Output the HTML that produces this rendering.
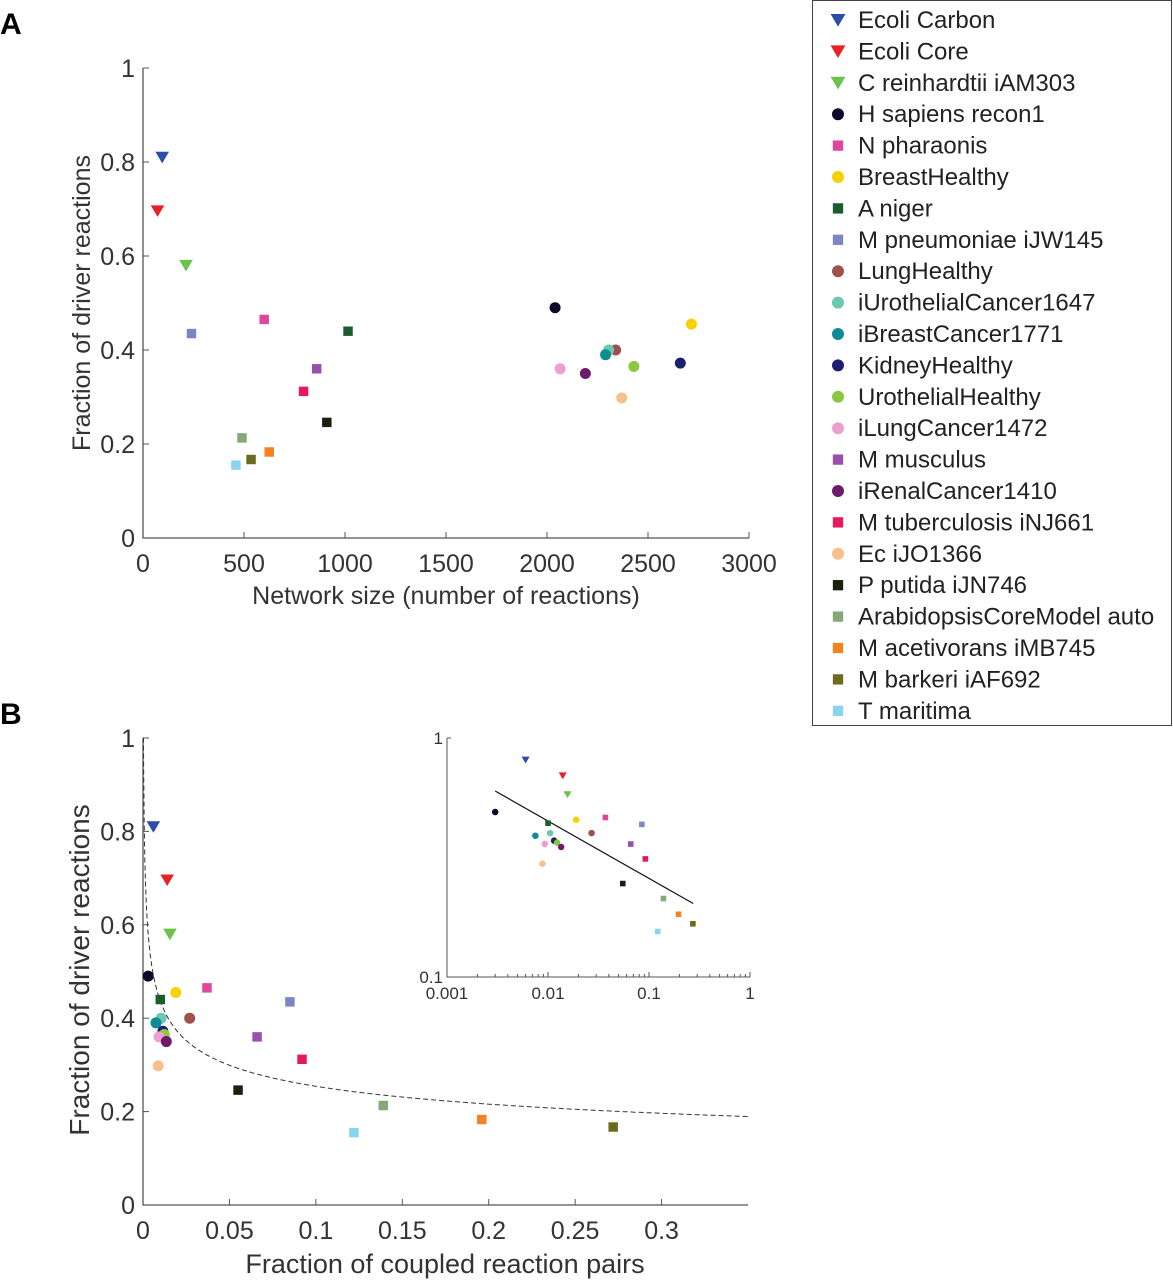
<!DOCTYPE html>
<html><head><meta charset="utf-8"><style>
body{margin:0;background:#fff;}
svg{display:block;font-family:"Liberation Sans",Arial,sans-serif;}
</style></head><body>
<svg id="fig" width="1173" height="1280" viewBox="0 0 1173 1280">
<text x="0" y="34" font-size="30" font-weight="bold">A</text>
<text x="0" y="724" font-size="30" font-weight="bold">B</text>
<g id="legend"></g>
<g id="pa"></g>
<g id="pb"></g>
<g id="inset"></g>
</svg>
<script>
const names=["Ecoli Carbon","Ecoli Core","C reinhardtii iAM303","H sapiens recon1","N pharaonis","BreastHealthy","A niger","M pneumoniae iJW145","LungHealthy","iUrothelialCancer1647","iBreastCancer1771","KidneyHealthy","UrothelialHealthy","iLungCancer1472","M musculus","iRenalCancer1410","M tuberculosis iNJ661","Ec iJO1366","P putida iJN746","ArabidopsisCoreModel auto","M acetivorans iMB745","M barkeri iAF692","T maritima"];
const shapes=["tri","tri","tri","circ","sq","circ","sq","sq","circ","circ","circ","circ","circ","circ","sq","circ","sq","circ","sq","sq","sq","sq","sq"];
const colors=["#2b4ea8","#e8202a","#6cc24a","#0a0a2a","#e0479a","#f7d000","#1a5e30","#7b86c4","#a0504a","#6cc9b0","#0b8c96","#1c1f70","#8dc63f","#ee9ed0","#9a4fae","#6e1a6a","#e8195a","#f7c08a","#1a2010","#86a878","#f58220","#6b6b20","#8ad4ee"];
const netSize=[95,72,213,2040,600,2715,1015,240,2340,2305,2290,2660,2430,2065,860,2190,795,2370,910,490,625,535,460];
const driverFrac=[0.81,0.696,0.58,0.49,0.465,0.455,0.44,0.435,0.40,0.40,0.39,0.372,0.365,0.36,0.36,0.35,0.312,0.298,0.246,0.213,0.183,0.167,0.155];
const coupledFrac=[0.006,0.014,0.0156,0.003,0.037,0.019,0.01,0.085,0.027,0.0105,0.0075,0.0115,0.0123,0.0093,0.066,0.0135,0.092,0.0088,0.055,0.139,0.196,0.272,0.122];
const xTicksA=[0,500,1000,1500,2000,2500,3000];
const yTicks=[0,0.2,0.4,0.6,0.8,1];
const yTickLabels=["0","0.2","0.4","0.6","0.8","1"];
const xTicksB=[0,0.05,0.1,0.15,0.2,0.25,0.3];
const xTickLabelsB=["0","0.05","0.1","0.15","0.2","0.25","0.3"];
const fitX=[0.003,0.274];
const fitY=[0.60,0.203];
const NS="http://www.w3.org/2000/svg";
function mk(parent,tag,attrs,txt){const e=document.createElementNS(NS,tag);for(const k in attrs)e.setAttribute(k,attrs[k]);if(txt!==undefined)e.textContent=txt;parent.appendChild(e);return e;}
function marker(g,shape,cx,cy,col,s){let e;
 if(shape==="tri")e=mk(g,"polygon",{points:`${cx-s*0.62},${cy-s*0.5} ${cx+s*0.62},${cy-s*0.5} ${cx},${cy+s*0.55}`,fill:col});
 else if(shape==="circ")e=mk(g,"circle",{cx:cx,cy:cy,r:s*0.5,fill:col});
 else e=mk(g,"rect",{x:cx-s*0.43,y:cy-s*0.43,width:s*0.86,height:s*0.86,fill:col});
 return e;}
// Legend
const lg=document.getElementById('legend');
const lb=mk(lg,"rect",{x:812.5,y:0.5,width:359,height:725,fill:"#fff",stroke:"#444","stroke-width":1});

names.forEach((n,i)=>{const y=20+i*31.4;const g=mk(lg,"g",{});
 
 
 marker(g,shapes[i],838,y,colors[i],12);
 mk(g,"text",{x:858,y:y+8,"font-size":24,fill:"#222"},n);});
// Panel A
const pa=document.getElementById('pa');
const ax={x0:143,x1:749,y0:538,y1:68};
const sxA=v=>ax.x0+(v/3000)*(ax.x1-ax.x0);
const syA=v=>ax.y0-v*(ax.y0-ax.y1);
mk(pa,"path",{d:`M${ax.x0},${ax.y1}V${ax.y0}H${ax.x1}`,stroke:"#555",fill:"none","stroke-width":1.3});
xTicksA.forEach(t=>{const x=sxA(t);mk(pa,"line",{x1:x,x2:x,y1:ax.y0,y2:ax.y0-6,stroke:"#555"});
 const e=mk(pa,"text",{x:x,y:ax.y0+34,"text-anchor":"middle","font-size":25,fill:"#333"},String(t));});
yTicks.forEach((t,i)=>{const y=syA(t);mk(pa,"line",{x1:ax.x0,x2:ax.x0+6,y1:y,y2:y,stroke:"#555"});
 const e=mk(pa,"text",{x:ax.x0-8,y:y+9,"text-anchor":"end","font-size":25,fill:"#333"},yTickLabels[i]);});
let t=mk(pa,"text",{x:446,y:604,"text-anchor":"middle","font-size":25,fill:"#333"},"Network size (number of reactions)");

t=mk(pa,"text",{x:0,y:0,"text-anchor":"middle","font-size":25,fill:"#333",transform:"translate(90,303) rotate(-90)"},"Fraction of driver reactions");

names.forEach((n,i)=>{const m=marker(pa,shapes[i],sxA(netSize[i]),syA(driverFrac[i]),colors[i],11);
 
 });
// Panel B
const pb=document.getElementById('pb');
const bx={x0:143,x1:748,y0:1205,y1:738};
const sxB=v=>bx.x0+(v/0.35)*(bx.x1-bx.x0);
const syB=v=>bx.y0-v*(bx.y0-bx.y1);
mk(pb,"path",{d:`M${bx.x0},${bx.y1}V${bx.y0}H${bx.x1}`,stroke:"#555",fill:"none","stroke-width":1.3});
xTicksB.forEach((v,i)=>{const x=sxB(v);mk(pb,"line",{x1:x,x2:x,y1:bx.y0,y2:bx.y0-6,stroke:"#555"});
 const e=mk(pb,"text",{x:x,y:bx.y0+34,"text-anchor":"middle","font-size":25,fill:"#333"},xTickLabelsB[i]);});
yTicks.forEach((v,i)=>{const y=syB(v);mk(pb,"line",{x1:bx.x0,x2:bx.x0+6,y1:y,y2:y,stroke:"#555"});
 const e=mk(pb,"text",{x:bx.x0-8,y:y+9,"text-anchor":"end","font-size":25,fill:"#333"},yTickLabels[i]);});
t=mk(pb,"text",{x:445,y:1273,"text-anchor":"middle","font-size":27,fill:"#333"},"Fraction of coupled reaction pairs");

t=mk(pb,"text",{x:0,y:0,"text-anchor":"middle","font-size":28,fill:"#333",transform:"translate(89,970) rotate(-90)"},"Fraction of driver reactions");

let d="";for(let k=0;k<=400;k++){const x=0.35*Math.pow(k/400,2)+1e-6;const y=Math.min(1,0.148*Math.pow(x,-0.235));d+=(k?"L":"M")+sxB(x).toFixed(1)+","+syB(y).toFixed(1);}
const cv=mk(pb,"path",{d:d,stroke:"#333",fill:"none","stroke-dasharray":"5,3","stroke-width":1});

names.forEach((n,i)=>{const m=marker(pb,shapes[i],sxB(coupledFrac[i]),syB(driverFrac[i]),colors[i],11);
 
 });
// Inset
const ins=document.getElementById('inset');
const ix={x0:447,x1:750,y0:977,y1:738};
const sxI=v=>ix.x0+((Math.log10(v)+3)/3)*(ix.x1-ix.x0);
const syI=v=>ix.y0-((Math.log10(v)+1))*(ix.y0-ix.y1);
mk(ins,"path",{d:`M${ix.x0},${ix.y1}V${ix.y0}H${ix.x1}`,stroke:"#555",fill:"none","stroke-width":1});
mk(ins,"line",{x1:ix.x0,x2:ix.x0+4,y1:ix.y1,y2:ix.y1,stroke:"#555"});
for(let dcd=-3;dcd<0;dcd++){for(let m=1;m<10;m++){const x=sxI(m*Math.pow(10,dcd));mk(ins,"line",{x1:x,x2:x,y1:ix.y0,y2:ix.y0-(m===1?5:3),stroke:"#555"});}}
mk(ins,"line",{x1:ix.x1,x2:ix.x1,y1:ix.y0,y2:ix.y0-5,stroke:"#555"});
[[0.001,"0.001"],[0.01,"0.01"],[0.1,"0.1"],[1,"1"]].forEach(p=>{const e=mk(ins,"text",{x:sxI(p[0]),y:ix.y0+22,"text-anchor":"middle","font-size":17,fill:"#333"},p[1]);});
[[1,"1"],[0.1,"0.1"]].forEach(p=>{const e=mk(ins,"text",{x:ix.x0-4,y:syI(p[0])+6,"text-anchor":"end","font-size":17,fill:"#333"},p[1]);});
const fl=mk(ins,"line",{x1:sxI(fitX[0]),y1:syI(fitY[0]),x2:sxI(fitX[1]),y2:syI(fitY[1]),stroke:"#111","stroke-width":1.2});

names.forEach((n,i)=>{const m=marker(ins,shapes[i],sxI(coupledFrac[i]),syI(driverFrac[i]),colors[i],6.5);
 
 });
</script>
</body></html>
